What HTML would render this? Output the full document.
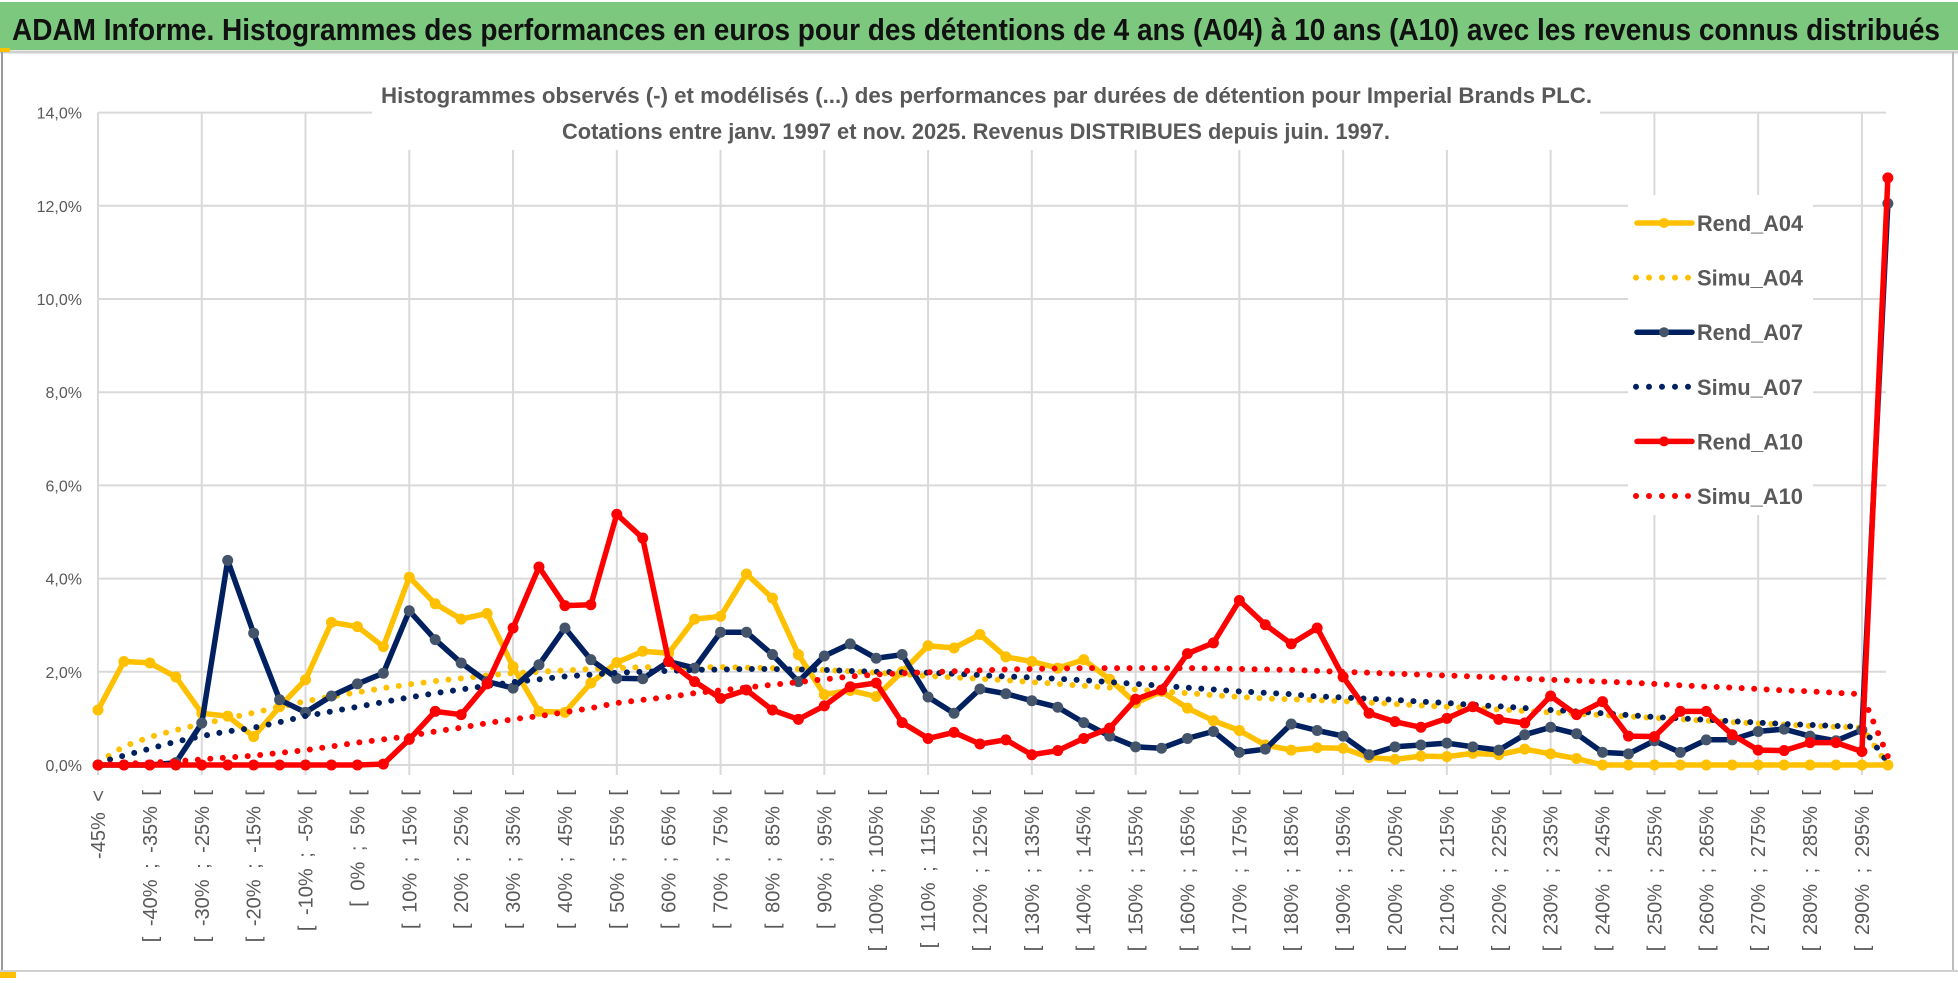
<!DOCTYPE html>
<html><head><meta charset="utf-8"><style>
html,body{margin:0;padding:0;background:#fff;}
svg{display:block;font-family:"Liberation Sans",sans-serif;}
</style></head><body>
<svg id="chart" width="1958" height="983" viewBox="0 0 1958 983" xmlns="http://www.w3.org/2000/svg">
<rect x="0" y="0" width="1958" height="983" fill="#fff"/>
<rect x="0" y="2" width="1958" height="48" fill="#7DC87F"/>
<line x1="0" y1="52" x2="1958" y2="52" stroke="#cfcfcf" stroke-width="3"/>
<line x1="2" y1="52" x2="2" y2="972" stroke="#9a9a9a" stroke-width="2"/>
<line x1="1953" y1="52" x2="1953" y2="972" stroke="#bdbdbd" stroke-width="2"/>
<line x1="0" y1="971" x2="1958" y2="971" stroke="#d0d0d0" stroke-width="2"/>
<rect x="0" y="48" width="10" height="4" fill="#FFC000"/>
<rect x="0" y="972" width="16" height="6" fill="#FFC000"/>
<text x="12" y="40" font-size="31" font-weight="bold" fill="#111" textLength="1928" lengthAdjust="spacingAndGlyphs">ADAM Informe. Histogrammes des performances en euros pour des détentions de 4 ans (A04) à 10 ans (A10) avec les revenus connus distribués</text>
<g id="grid"></g>
<g id="yticks"></g>
<g id="xticks"></g>
<rect x="372" y="78" width="1228" height="72" fill="#fff"/>
<text x="381" y="103" font-size="22" font-weight="bold" fill="#595959" textLength="1211" lengthAdjust="spacingAndGlyphs">Histogrammes observés (-) et modélisés (...) des performances par durées de détention pour Imperial Brands PLC.</text>
<text x="562" y="139" font-size="22" font-weight="bold" fill="#595959" textLength="828" lengthAdjust="spacingAndGlyphs">Cotations entre janv. 1997 et nov. 2025. Revenus DISTRIBUES depuis juin. 1997.</text>
<g id="legend"></g>
<g id="series"></g>
</svg>
<script>
const rendA04 = [1.18,2.22,2.19,1.89,1.11,1.05,0.61,1.25,1.83,3.06,
 2.97,2.54,4.03,3.46,3.13,3.25,2.11,1.15,1.13,1.76,
 2.2,2.44,2.4,3.13,3.19,4.1,3.58,2.37,1.51,1.6,
 1.47,2.0,2.56,2.51,2.8,2.32,2.22,2.08,2.26,1.84,
 1.33,1.58,1.22,0.95,0.74,0.43,0.32,0.37,0.36,0.16,
 0.12,0.19,0.18,0.25,0.22,0.34,0.24,0.14,0,0,
 0,0,0,0,0,0,0,0,0,0];
const simuA04 = [0.05,0.4,0.6,0.75,0.88,1.0,1.12,1.25,1.37,1.47,
 1.56,1.65,1.73,1.8,1.86,1.92,1.97,2.0,2.03,2.06,
 2.08,2.1,2.1,2.1,2.1,2.09,2.08,2.06,2.04,2.01,
 1.98,1.95,1.91,1.88,1.85,1.82,1.78,1.74,1.7,1.66,
 1.62,1.58,1.54,1.5,1.46,1.43,1.41,1.39,1.37,1.34,
 1.31,1.28,1.25,1.22,1.19,1.16,1.13,1.1,1.07,1.04,
 1.01,0.98,0.95,0.92,0.89,0.87,0.84,0.82,0.8,0.0];
const rendA07 = [0,0,0,0.05,0.9,4.39,2.83,1.4,1.13,1.48,
 1.74,1.97,3.31,2.69,2.19,1.79,1.65,2.15,2.94,2.26,
 1.86,1.85,2.22,2.08,2.85,2.85,2.37,1.79,2.34,2.6,
 2.29,2.37,1.46,1.11,1.63,1.53,1.38,1.24,0.91,0.62,
 0.39,0.36,0.57,0.72,0.27,0.34,0.88,0.74,0.62,0.22,
 0.39,0.43,0.47,0.39,0.32,0.65,0.81,0.67,0.27,0.24,
 0.52,0.27,0.54,0.54,0.72,0.77,0.62,0.52,0.75,12.05];
const simuA07 = [0.05,0.2,0.35,0.5,0.62,0.72,0.8,0.92,1.05,1.15,
 1.25,1.35,1.45,1.54,1.62,1.7,1.78,1.84,1.9,1.94,
 1.98,2.0,2.02,2.04,2.05,2.06,2.06,2.05,2.04,2.02,
 2.0,1.99,1.98,1.96,1.93,1.9,1.88,1.85,1.82,1.78,
 1.74,1.7,1.66,1.62,1.58,1.55,1.52,1.47,1.45,1.42,
 1.4,1.36,1.33,1.29,1.26,1.22,1.18,1.15,1.11,1.07,
 1.03,1.0,0.97,0.94,0.91,0.88,0.86,0.84,0.82,0.05];
const rendA10 = [0,0,0,0,0,0,0,0,0,0,
 0,0.02,0.55,1.15,1.08,1.74,2.94,4.25,3.42,3.44,
 5.38,4.87,2.22,1.79,1.43,1.61,1.18,0.98,1.27,1.68,
 1.76,0.91,0.57,0.70,0.45,0.54,0.22,0.31,0.57,0.79,
 1.41,1.61,2.39,2.62,3.53,3.01,2.6,2.94,1.89,1.11,
 0.93,0.81,1.0,1.25,0.98,0.9,1.48,1.08,1.36,0.62,
 0.61,1.15,1.15,0.65,0.32,0.31,0.48,0.48,0.29,12.6];
const simuA10 = [0.0,0.03,0.05,0.08,0.12,0.16,0.2,0.26,0.32,0.4,
 0.48,0.55,0.62,0.72,0.8,0.9,0.98,1.05,1.13,1.22,
 1.33,1.4,1.46,1.54,1.6,1.66,1.72,1.78,1.84,1.9,
 1.94,1.97,1.99,2.01,2.03,2.05,2.06,2.07,2.08,2.08,
 2.08,2.08,2.08,2.07,2.06,2.05,2.04,2.02,2.0,1.98,
 1.96,1.94,1.92,1.9,1.88,1.85,1.83,1.81,1.79,1.77,
 1.74,1.71,1.68,1.66,1.63,1.6,1.58,1.55,1.52,0.18];
const lowerBounds = [-45,-40,-35,-30,-25,-20,-15,-10,-5,0,5,10,15,20,25,30,35,40,45,50,55,60,65,70,75,80,85,90,95,100,105,110,115,120,125,130,135,140,145,150,155,160,165,170,175,180,185,190,195,200,205,210,215,220,225,230,235,240,245,250,255,260,265,270,275,280,285,290,295];
const yTicks = [0,2,4,6,8,10,12,14];

const categories = ["-45% <"];
for (const lb of lowerBounds) categories.push("[ " + lb + "% ; " + (lb + 5) + "% [");

const NS = "http://www.w3.org/2000/svg";
const X0 = 98, STEP = 25.94, Y0 = 765, YS = 46.6, XR = 1886;
const xs = i => X0 + i * STEP;
const ys = v => Y0 - v * YS;
function mk(tag, attrs, parent) {
  const el = document.createElementNS(NS, tag);
  for (const k in attrs) el.setAttribute(k, attrs[k]);
  parent.appendChild(el);
  return el;
}
const grid = document.getElementById('grid');
for (const t of yTicks) {
  const l = mk('line', {x1: X0, x2: XR, y1: ys(t), y2: ys(t), stroke: '#d9d9d9', 'stroke-width': 2}, grid);
  
  
}
for (let i = 0; i < categories.length; i += 4) {
  const l = mk('line', {x1: xs(i), x2: xs(i), y1: ys(14), y2: Y0 + 10, stroke: '#d9d9d9', 'stroke-width': 2}, grid);
  
  
}
const yt = document.getElementById('yticks');
for (const t of yTicks) {
  const tx = mk('text', {x: 82, y: ys(t) + 6, 'text-anchor': 'end', 'font-size': 16, fill: '#595959'}, yt);
  tx.textContent = t.toFixed(1).replace('.', ',') + '%';
  
  
}
const xt = document.getElementById('xticks');
for (let i = 0; i < categories.length; i += 2) {
  const x = xs(i) + 7, y = 790;
  const tx = mk('text', {x: x, y: y, 'text-anchor': 'end', 'font-size': 20, 'word-spacing': 5, fill: '#595959', transform: 'rotate(-90 ' + x + ' ' + y + ')', 'xml:space': 'preserve'}, xt);
  tx.textContent = categories[i];
  
  
}
const series = [
  {name: 'Rend_A04', data: rendA04, color: '#FFC000', marker: '#FFC000', dotted: false},
  {name: 'Simu_A04', data: simuA04, color: '#FFC000', dotted: true},
  {name: 'Rend_A07', data: rendA07, color: '#002060', marker: '#44546A', dotted: false},
  {name: 'Simu_A07', data: simuA07, color: '#002060', dotted: true},
  {name: 'Rend_A10', data: rendA10, color: '#FF0000', marker: '#FF0000', dotted: false},
  {name: 'Simu_A10', data: simuA10, color: '#FF0000', dotted: true}
];
const lg = document.getElementById('legend');
const lbg = mk('rect', {x: 1628, y: 195, width: 185, height: 320, fill: '#fff'}, lg);


const sg = document.getElementById('series');
series.forEach((s, k) => {
  const g = mk('g', {}, sg);
  
  
  const pts = s.data.map((v, i) => xs(i).toFixed(1) + ',' + ys(v).toFixed(1)).join(' ');
  const pl = mk('polyline', {points: pts, fill: 'none', stroke: s.color, 'stroke-width': s.dotted ? 6 : 5.5, 'stroke-linejoin': 'round', 'stroke-linecap': 'round', 'stroke-dasharray': s.dotted ? '0 12.5' : 'none'}, g);
  
  
  if (!s.dotted) {
    s.data.forEach((v, i) => {
      const c = mk('circle', {cx: xs(i), cy: ys(v), r: 5, fill: s.marker, stroke: s.marker}, g);
      
      
    });
  }
  const ly = 223 + k * 54.6;
  const eg = mk('g', {}, lg);
  
  
  if (s.dotted) {
    mk('line', {x1: 1636, x2: 1690, y1: ly, y2: ly, stroke: s.color, 'stroke-width': 6, 'stroke-linecap': 'round', 'stroke-dasharray': '0 13'}, eg);
  } else {
    mk('line', {x1: 1637, x2: 1692, y1: ly, y2: ly, stroke: s.color, 'stroke-width': 5.5, 'stroke-linecap': 'round'}, eg);
    mk('circle', {cx: 1664, cy: ly, r: 5, fill: s.marker}, eg);
  }
  const t = mk('text', {x: 1697, y: ly + 8, 'font-size': 22, 'font-weight': 'bold', fill: '#595959', textLength: 106, lengthAdjust: 'spacingAndGlyphs'}, eg);
  t.textContent = s.name;
});
</script>
</body></html>
